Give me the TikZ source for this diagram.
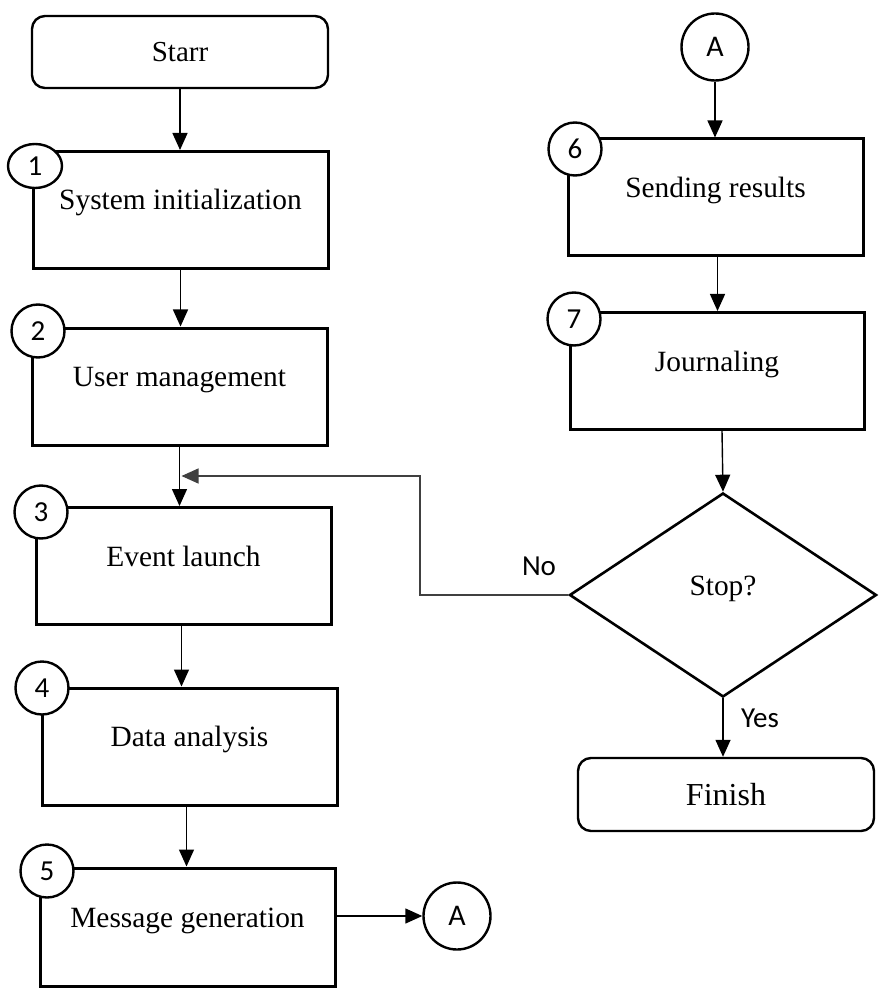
\documentclass[tikz,border=0pt]{standalone}
\usepackage{fontspec}
\setmainfont{Liberation Serif}
\newfontfamily\sanslbl{Carlito}
\usetikzlibrary{shapes.geometric,arrows.meta}
\tikzset{
  proc/.style={draw, line width=1.5pt, minimum width=147.5pt, minimum height=58.5pt, inner sep=0pt,
    text height=8pt, text depth=8pt, font=\fontsize{14.7}{17}\selectfont},
  term/.style={draw, rounded corners=6.5pt, line width=1.2pt, minimum width=148pt, inner sep=0pt},
  numc/.style={circle, draw, fill=white, line width=1.2pt, minimum size=26.5pt, inner sep=0pt,
    font=\sanslbl\fontsize{14.5}{14.5}\selectfont},
  conn/.style={circle, draw, line width=1.2pt, minimum size=33.5pt, inner sep=0pt,
    font=\sanslbl\fontsize{15}{15}\selectfont},
  decis/.style={diamond, draw, line width=1.3pt, minimum width=153.5pt, minimum height=102pt, inner sep=0pt,
    text height=8pt, text depth=8pt, font=\fontsize{14.7}{17}\selectfont},
  arr/.style={-{Triangle[length=8.5pt,width=7.5pt]}, line width=0.7pt},
  lbl/.style={font=\sanslbl\fontsize{14.5}{14.5}\selectfont, inner sep=0pt}
}
\begin{document}
\begin{tikzpicture}[x=0.5pt,y=-0.5pt]
\useasboundingbox[fill=white] (0,0) rectangle (882,994);
% left column
\node[term, minimum height=36pt, font=\fontsize{14.5}{17}\selectfont] (start) at (180,52) {Starr};
\node[proc] (b1) at (180.5,210) {System initialization};
\node[proc] (b2) at (179.5,386.5) {User management};
\node[proc] (b3) at (183.5,566) {Event launch};
\node[proc] (b4) at (189.5,746.5) {Data analysis};
\node[proc, minimum height=59pt] (b5) at (187.5,927) {Message generation};
\node[conn] (a1) at (457,916) {A};
% right column
\node[conn] (a2) at (715,47) {A};
\node[proc] (b6) at (715.5,197.5) {Sending results};
\node[proc, minimum width=147pt] (b7) at (717,371) {Journaling};
\node[decis] (dec) at (723,595) {Stop?};
\node[term, minimum height=36.5pt, font=\fontsize{16}{18}\selectfont] (fin) at (726,794.5) {Finish};
% number circles
\node[numc, ellipse, minimum width=27pt, minimum height=22pt] (n1) at (35,166) {1};
\node[numc] (n2) at (38,331) {2};
\node[numc] (n3) at (41,512) {3};
\node[numc] (n4) at (42,688) {4};
\node[numc] (n5) at (47,871) {5};
\node[numc] (n6) at (575,149) {6};
\node[numc] (n7) at (574,319) {7};
% connectors
\draw[arr] (start.south) -- (start.south |- b1.north);
\draw[arr] (b1.south) -- (b1.south |- b2.north);
\draw[arr] (b2.south) -- (b2.south |- b3.north);
\draw[arr] ([xshift=-1pt]b3.south) -- ([xshift=-1pt]b3.south |- b4.north);
\draw[arr] ([xshift=-1.5pt]b4.south) -- ([xshift=-1.5pt]b4.south |- b5.north);
\draw[arr] (a1.west -| b5.east) -- (a1.west);
\draw[arr] (a2.south) -- (a2.south |- b6.north);
\draw[arr] ([xshift=1pt]b6.south) -- ([xshift=1pt]b6.south |- b7.north);
\draw[arr] ([xshift=2.5pt]b7.south) -- (dec.north);
\draw[arr] (dec.south) -- (dec.south |- fin.north);
\coordinate (fb1) at (420,595);
\coordinate (fb2) at (420,476);
\draw[arr, draw=black!75, line width=0.6pt] (dec.west) -- (fb1) -- (fb2) -- ([xshift=1pt]b2.south |- fb2);
% labels
\node[lbl] (no) at (539,566) {No};
\node[lbl] (yes) at (760,718) {Yes};
\end{tikzpicture}
\end{document}
